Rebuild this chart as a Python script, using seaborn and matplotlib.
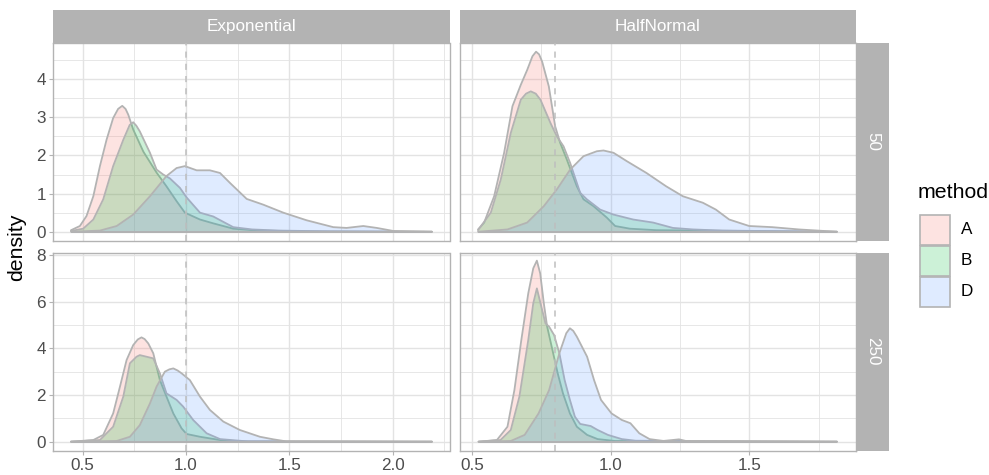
import numpy as np
import pandas as pd
import matplotlib
matplotlib.use("Agg")
import matplotlib.pyplot as plt
from matplotlib.patches import Rectangle
import seaborn as sns

# ---------------- data (density curves) ----------------
dists = ["Exponential", "HalfNormal"]
sizes = ["50", "250"]
methods = ["A", "B", "D"]
ref_lines = [1.0, 0.8]

# Exponential, n = 50
exp50_A_x = [0.444, 0.487, 0.519, 0.552, 0.584, 0.616, 0.648, 0.672, 0.692, 0.708, 0.721, 0.745, 0.794, 0.858, 0.906, 0.955, 0.995, 1.068, 1.132, 1.229, 1.35, 1.6, 2.19]
exp50_A_y = [0.04, 0.15, 0.41, 0.93, 1.72, 2.41, 2.98, 3.22, 3.30, 3.22, 3.07, 2.68, 2.10, 1.55, 1.19, 0.80, 0.50, 0.32, 0.22, 0.08, 0.03, 0.01, 0.0]
exp50_B_x = [0.444, 0.503, 0.552, 0.600, 0.648, 0.697, 0.728, 0.745, 0.760, 0.777, 0.826, 0.858, 0.890, 0.922, 0.971, 1.003, 1.068, 1.132, 1.229, 1.32, 1.45, 1.7, 2.19]
exp50_B_y = [0.02, 0.08, 0.32, 0.85, 1.72, 2.41, 2.80, 2.87, 2.78, 2.63, 2.07, 1.63, 1.50, 1.40, 1.15, 0.90, 0.50, 0.40, 0.12, 0.06, 0.03, 0.01, 0.0]
exp50_D_x = [0.444, 0.584, 0.665, 0.745, 0.826, 0.906, 0.955, 0.995, 1.052, 1.116, 1.165, 1.213, 1.294, 1.374, 1.471, 1.584, 1.713, 1.777, 1.858, 1.923, 2.003, 2.19]
exp50_D_y = [0.0, 0.03, 0.15, 0.45, 0.93, 1.46, 1.67, 1.72, 1.61, 1.61, 1.54, 1.28, 0.86, 0.71, 0.50, 0.30, 0.12, 0.10, 0.15, 0.10, 0.02, 0.0]

# HalfNormal, n = 50
hn50_A_x = [0.522, 0.544, 0.580, 0.616, 0.646, 0.676, 0.699, 0.718, 0.731, 0.742, 0.753, 0.777, 0.800, 0.818, 0.842, 0.878, 0.902, 0.938, 0.986, 1.016, 1.069, 1.165, 1.815]
hn50_A_y = [0.06, 0.24, 0.93, 2.07, 3.29, 3.85, 4.24, 4.60, 4.72, 4.65, 4.46, 3.81, 2.76, 2.33, 1.89, 1.19, 0.85, 0.67, 0.37, 0.15, 0.08, 0.04, 0.0]
hn50_B_x = [0.522, 0.568, 0.604, 0.640, 0.676, 0.695, 0.712, 0.730, 0.747, 0.783, 0.806, 0.830, 0.854, 0.890, 0.914, 0.962, 1.010, 1.081, 1.153, 1.224, 1.296, 1.403, 1.815]
hn50_B_y = [0.04, 0.50, 1.37, 2.59, 3.46, 3.62, 3.68, 3.62, 3.46, 2.85, 2.50, 2.24, 1.80, 1.02, 0.85, 0.58, 0.45, 0.32, 0.24, 0.10, 0.06, 0.03, 0.0]
hn50_D_x = [0.522, 0.628, 0.699, 0.759, 0.806, 0.854, 0.902, 0.950, 0.974, 1.010, 1.058, 1.129, 1.200, 1.260, 1.332, 1.379, 1.427, 1.499, 1.582, 1.678, 1.815]
hn50_D_y = [0.0, 0.06, 0.24, 0.67, 1.11, 1.63, 1.98, 2.11, 2.13, 2.07, 1.85, 1.54, 1.19, 0.93, 0.76, 0.58, 0.32, 0.15, 0.12, 0.06, 0.0]

# Exponential, n = 250
exp250_A_x = [0.444, 0.552, 0.600, 0.648, 0.681, 0.713, 0.745, 0.767, 0.785, 0.800, 0.818, 0.842, 0.874, 0.906, 0.939, 0.979, 1.003, 1.068, 1.165, 1.25, 2.19]
exp250_A_y = [0.0, 0.07, 0.29, 1.21, 2.36, 3.50, 4.14, 4.38, 4.47, 4.40, 4.21, 3.79, 2.64, 1.93, 1.21, 0.57, 0.33, 0.21, 0.07, 0.02, 0.0]
exp250_B_x = [0.444, 0.584, 0.648, 0.697, 0.729, 0.761, 0.777, 0.810, 0.842, 0.874, 0.906, 0.955, 0.987, 1.035, 1.100, 1.165, 1.30, 2.19]
exp250_B_y = [0.0, 0.07, 0.64, 1.93, 3.36, 3.64, 3.71, 3.64, 3.57, 2.93, 2.07, 1.79, 1.50, 0.93, 0.36, 0.11, 0.01, 0.0]
exp250_D_x = [0.444, 0.665, 0.729, 0.777, 0.826, 0.858, 0.898, 0.920, 0.939, 0.960, 0.979, 1.019, 1.068, 1.116, 1.181, 1.261, 1.358, 1.423, 1.487, 2.19]
exp250_D_y = [0.0, 0.03, 0.21, 0.71, 1.64, 2.36, 3.00, 3.10, 3.14, 3.05, 2.93, 2.64, 1.93, 1.36, 0.86, 0.50, 0.21, 0.10, 0.01, 0.0]

# HalfNormal, n = 250
hn250_A_x = [0.524, 0.590, 0.628, 0.653, 0.678, 0.703, 0.721, 0.734, 0.746, 0.759, 0.771, 0.790, 0.809, 0.828, 0.853, 0.878, 0.915, 0.953, 1.015, 1.815]
hn250_A_y = [0.0, 0.07, 0.64, 2.21, 4.36, 6.36, 7.43, 7.76, 7.21, 5.93, 4.93, 3.93, 2.93, 2.07, 1.21, 0.64, 0.29, 0.11, 0.03, 0.0]
hn250_B_x = [0.524, 0.603, 0.640, 0.671, 0.703, 0.721, 0.734, 0.753, 0.765, 0.778, 0.796, 0.815, 0.834, 0.853, 0.871, 0.890, 0.928, 0.953, 0.990, 1.040, 1.090, 1.815]
hn250_B_y = [0.0, 0.07, 0.50, 1.93, 4.36, 5.93, 6.57, 5.64, 5.07, 4.93, 4.57, 3.79, 2.64, 1.79, 1.07, 0.76, 0.67, 0.50, 0.29, 0.11, 0.04, 0.0]
hn250_D_x = [0.524, 0.640, 0.690, 0.740, 0.778, 0.815, 0.840, 0.853, 0.865, 0.878, 0.915, 0.940, 0.965, 1.003, 1.040, 1.071, 1.103, 1.140, 1.190, 1.246, 1.278, 1.340, 1.815]
hn250_D_y = [0.0, 0.03, 0.29, 1.21, 2.21, 3.79, 4.65, 4.86, 4.75, 4.50, 3.64, 2.64, 1.79, 1.21, 0.93, 0.79, 0.36, 0.11, 0.03, 0.10, 0.01, 0.01, 0.0]

curves = {
    ("Exponential", "50"): {"A": (exp50_A_x, exp50_A_y), "B": (exp50_B_x, exp50_B_y), "D": (exp50_D_x, exp50_D_y)},
    ("HalfNormal", "50"): {"A": (hn50_A_x, hn50_A_y), "B": (hn50_B_x, hn50_B_y), "D": (hn50_D_x, hn50_D_y)},
    ("Exponential", "250"): {"A": (exp250_A_x, exp250_A_y), "B": (exp250_B_x, exp250_B_y), "D": (exp250_D_x, exp250_D_y)},
    ("HalfNormal", "250"): {"A": (hn250_A_x, hn250_A_y), "B": (hn250_B_x, hn250_B_y), "D": (hn250_D_x, hn250_D_y)},
}

rows = []
for (d, n), mm in curves.items():
    for m, (xs, ys) in mm.items():
        for xv, yv in zip(xs, ys):
            rows.append({"dist": d, "n": n, "method": m, "x": xv, "density": yv})
df = pd.DataFrame(rows)

# ---------------- style ----------------
sns.set_theme(style="white")
plt.rcParams["font.family"] = ["Liberation Sans", "DejaVu Sans"]

W, H = 989, 475
fig = plt.figure(figsize=(W / 100, H / 100), dpi=100)
fig.patch.set_facecolor("white")

palette = {"A": "#F8766D", "B": "#00BA38", "D": "#619CFF"}
ALPHA = 0.2
EDGE = "#B3B3B3"
STRIP = "#B3B3B3"
GRID = "#E3E3E3"
TICKTXT = "#4D4D4D"
FS_TICK = 12.3
FS_TITLE = 15.3


def rect(x0, y0, x1, y1):
    return [x0 / W, 1 - y1 / H, (x1 - x0) / W, (y1 - y0) / H]


col_x = [(53, 449.5), (460, 855.5)]
row_y = [(43.3, 240.7), (252.7, 450.7)]
xlims = [(0.357, 2.275), (0.457, 1.882)]
ylims = [(-0.235, 4.94), (-0.387, 8.1)]
xmaj = [[0.5, 1.0, 1.5, 2.0], [0.5, 1.0, 1.5]]
xmin = [[0.75, 1.25, 1.75, 2.25], [0.75, 1.25, 1.75]]
ymaj = [[0, 1, 2, 3, 4], [0, 2, 4, 6, 8]]
ymin = [[0.5, 1.5, 2.5, 3.5, 4.5], [1, 3, 5, 7]]

for ri, n in enumerate(sizes):
    for ci, d in enumerate(dists):
        x0, x1 = col_x[ci]
        y0, y1 = row_y[ri]
        ax = fig.add_axes(rect(x0, y0, x1, y1))
        ax.set_facecolor("white")
        ax.set_xlim(*xlims[ci])
        ax.set_ylim(*ylims[ri])
        for v in xmin[ci]:
            ax.axvline(v, color=GRID, lw=0.6, zorder=0)
        for v in ymin[ri]:
            ax.axhline(v, color=GRID, lw=0.6, zorder=0)
        for v in xmaj[ci]:
            ax.axvline(v, color=GRID, lw=1.0, zorder=0)
        for v in ymaj[ri]:
            ax.axhline(v, color=GRID, lw=1.0, zorder=0)

        sub = df[(df["dist"] == d) & (df["n"] == n)]
        for k, m in enumerate(methods):
            s = sub[sub["method"] == m]
            xs = s["x"].to_numpy()
            ys = s["density"].to_numpy()
            ax.fill_between(xs, 0, ys, color=palette[m], alpha=ALPHA, lw=0, zorder=2 + k)
            sns.lineplot(x=xs, y=ys, ax=ax, color=EDGE, lw=1.3, sort=False,
                         estimator=None, zorder=2.5 + k, legend=False)
            ax.plot([xs[0], xs[-1]], [0, 0], color=EDGE, lw=1.3, zorder=2.5 + k,
                    solid_capstyle="butt")
        ax.axvline(ref_lines[ci], color="#BEBEBE", lw=1.1, ls=(0, (4, 4)), zorder=10)

        ax.set_xticks(xmaj[ci])
        ax.set_yticks(ymaj[ri])
        ax.set_xlabel("")
        ax.set_ylabel("")
        ax.tick_params(axis="both", which="both", length=3, width=0.8, color=EDGE,
                       labelsize=FS_TICK, labelcolor=TICKTXT, pad=2)
        ax.tick_params(bottom=(ri == 1), left=(ci == 0),
                       labelbottom=(ri == 1), labelleft=(ci == 0))
        if ri == 1:
            ax.set_xticklabels([f"{v:.1f}" for v in xmaj[ci]])
        if ci == 0:
            ax.set_yticklabels([str(v) for v in ymaj[ri]])
        for sp in ax.spines.values():
            sp.set_color(EDGE)
            sp.set_linewidth(1.0)
            sp.set_visible(True)
        ax.grid(False)

# top strips
for ci, d in enumerate(dists):
    x0, x1 = col_x[ci]
    sax = fig.add_axes(rect(x0, 10, x1, 43.3))
    sax.set_facecolor(STRIP)
    sax.set_xticks([]); sax.set_yticks([])
    for sp in sax.spines.values():
        sp.set_visible(False)
    sax.text(0.5, 0.5, d, color="white", fontsize=FS_TICK, ha="center", va="center",
             transform=sax.transAxes)

# right strips
for ri, n in enumerate(sizes):
    y0, y1 = row_y[ri]
    sax = fig.add_axes(rect(856, y0, 889, y1))
    sax.set_facecolor(STRIP)
    sax.set_xticks([]); sax.set_yticks([])
    for sp in sax.spines.values():
        sp.set_visible(False)
    sax.text(0.5, 0.5, n, color="white", fontsize=FS_TICK, ha="center", va="center",
             rotation=270, transform=sax.transAxes)

# y axis title
fig.text(17 / W, 1 - 247 / H, "density", rotation=90, ha="center", va="center",
         fontsize=FS_TITLE, color="black")

# legend
fig.text(918 / W, 1 - 193 / H, "method", ha="left", va="center", fontsize=FS_TITLE, color="black")
key_y = [(214.5, 244.5), (245.5, 275.5), (276.5, 306.5)]
for m, (ky0, ky1) in zip(methods, key_y):
    r = Rectangle((920 / W, 1 - ky1 / H), 30 / W, (ky1 - ky0) / H,
                  transform=fig.transFigure, facecolor=palette[m], alpha=ALPHA,
                  edgecolor="none")
    fig.add_artist(r)
    r2 = Rectangle((920 / W, 1 - ky1 / H), 30 / W, (ky1 - ky0) / H,
                   transform=fig.transFigure, facecolor="none", edgecolor=EDGE, lw=1.2)
    fig.add_artist(r2)
    fig.text(961 / W, 1 - (ky0 + ky1) / 2 / H, m, ha="left", va="center",
             fontsize=FS_TICK, color="black")

fig.savefig("out.png", dpi=100, facecolor="white")
